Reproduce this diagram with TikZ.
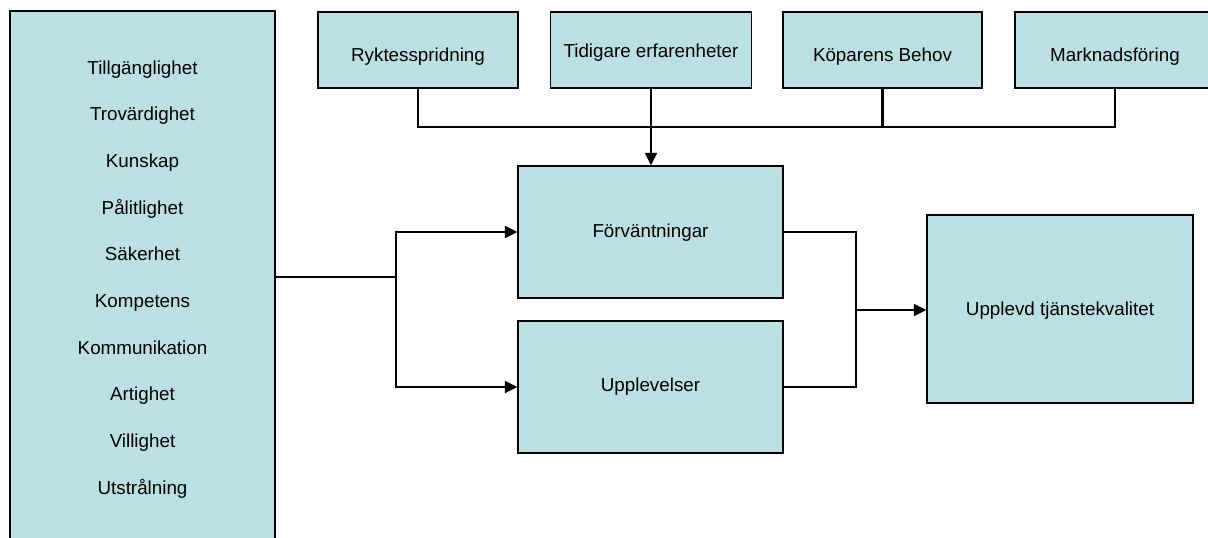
\documentclass[tikz,border=0pt]{standalone}
\usepackage{fontspec}
\setmainfont{Liberation Sans}
\usetikzlibrary{arrows.meta}
\definecolor{boxfill}{RGB}{187,224,227}
\tikzset{
  box/.style={draw=black, fill=boxfill, line width=1.3pt, inner sep=0pt,
    font=\fontsize{18.8}{22}\selectfont, text depth=0pt},
  item/.style={font=\fontsize{18.8}{22}\selectfont, anchor=base, inner sep=0pt},
  conn/.style={draw=black, line width=2.2pt},
  arr/.style={conn, -{Triangle[length=12.5pt,width=12pt]}}
}
\begin{document}
\begin{tikzpicture}[x=1pt,y=-1pt]
\clip (0,0) rectangle (1208,538);
\fill[white] (0,0) rectangle (1208,538);

% left quality box
\node[box, minimum width=265pt, minimum height=560pt] (qual) at (142.5,291) {};
\foreach \t [count=\i] in {Tillgänglighet,Trovärdighet,Kunskap,Pålitlighet,Säkerhet,Kompetens,Kommunikation,Artighet,Villighet,Utstrålning}
  \node[item] (it\i) at (142.5,{74+46.67*(\i-1)}) {\t};

% top boxes
\node[box, minimum width=200pt, minimum height=76pt, text height=22pt] (rykt) at (418,50) {Ryktesspridning};
\node[box, minimum width=201pt, minimum height=76pt, text height=15pt] (tid) at (651,50) {Tidigare erfarenheter};
\node[box, minimum width=199pt, minimum height=76pt, text height=23pt] (kop) at (882.5,50) {Köparens Behov};
\node[box, minimum width=200pt, minimum height=76pt, text height=23pt] (mark) at (1115,50) {Marknadsföring};

% middle boxes
\node[box, minimum width=265pt, minimum height=132pt, text height=10pt] (forv) at (650.5,232) {Förväntningar};
\node[box, minimum width=265pt, minimum height=132pt, text height=8pt] (upp) at (650.5,387) {Upplevelser};
\node[box, minimum width=266pt, minimum height=188pt, text height=12pt] (tjq) at (1060,309) {Upplevd tjänstekvalitet};

% top bus
\coordinate (bus) at (0,127);
\draw[conn] (rykt.south) -- (rykt.south |- bus) -- (mark.south |- bus) -- (mark.south);
\draw[conn] (kop.south) -- (kop.south |- bus);
\draw[arr] (tid.south) -- (tid.south |- forv.north);

% left fork
\coordinate (lj) at (396,277);
\draw[conn] (qual.east |- lj) -- (lj);
\draw[arr] (lj) |- (forv.west);
\draw[arr] (lj) |- (upp.west);

% right fork
\coordinate (rj) at (856,310);
\draw[conn] (forv.east) -| (rj);
\draw[conn] (upp.east) -| (rj);
\draw[arr] (rj) -- (rj -| tjq.west);
\end{tikzpicture}
\end{document}
